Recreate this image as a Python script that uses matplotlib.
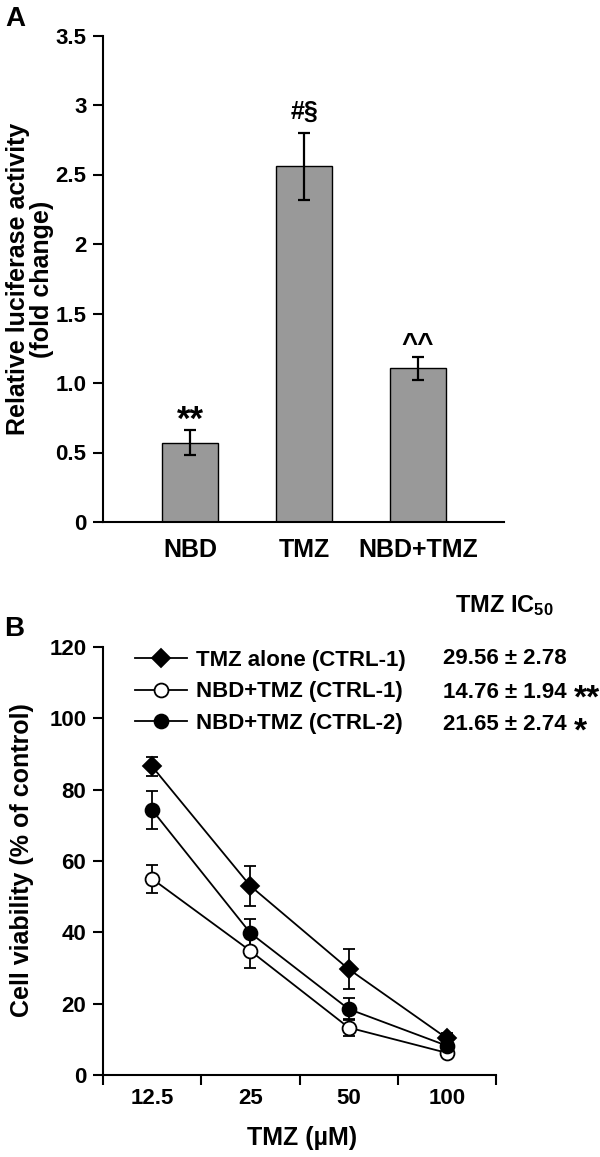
import numpy as np
import matplotlib
matplotlib.use("Agg")
import matplotlib.pyplot as plt
from matplotlib.ticker import FixedLocator, NullFormatter

plt.rcParams["font.family"] = ["Liberation Sans", "DejaVu Sans"]
plt.rcParams["font.weight"] = "bold"
plt.rcParams["mathtext.fontset"] = "custom"
plt.rcParams["mathtext.bf"] = "Liberation Sans:bold"
plt.rcParams["mathtext.rm"] = "Liberation Sans:bold"
plt.rcParams["mathtext.default"] = "bf"

# Panel A data: luciferase activity (fold change)
bar_labels = ["NBD", "TMZ", "NBD+TMZ"]
bar_means = [0.57, 2.56, 1.105]
bar_errs = [0.09, 0.24, 0.085]
bar_marks = ["**", "#§", "^^"]
a_ticks = [0, 0.5, 1.0, 1.5, 2, 2.5, 3, 3.5]
a_ticklabels = ["0", "0.5", "1.0", "1.5", "2", "2.5", "3", "3.5"]

# Panel B data: cell viability (% of control)
doses = ["12.5", "25", "50", "100"]
tmz_alone = [86.5, 53.0, 29.7, 10.3]
tmz_alone_err = [2.7, 5.6, 5.7, 1.5]
nbd_ctrl1 = [55.0, 34.8, 13.3, 6.2]
nbd_ctrl1_err = [3.9, 4.7, 2.5, 1.0]
nbd_ctrl2 = [74.3, 39.8, 18.5, 8.2]
nbd_ctrl2_err = [5.2, 4.0, 3.0, 1.5]
series_names = ["TMZ alone (CTRL-1)", "NBD+TMZ (CTRL-1)", "NBD+TMZ (CTRL-2)"]
ic50_vals = ["29.56 ± 2.78", "14.76 ± 1.94", "21.65 ± 2.74"]
ic50_sig = ["", "**", "*"]

W, H = 600, 1157
fig = plt.figure(figsize=(W / 100, H / 100), dpi=100)


def ax_rect(left, top, right, bottom):
    # pixel box -> figure fraction
    return [left / W, 1 - bottom / H, (right - left) / W, (bottom - top) / H]


# ---------------- Panel A ----------------
axA = fig.add_axes(ax_rect(103, 35.5, 504, 522))
x = np.arange(len(bar_labels))
axA.bar(x, bar_means, width=0.49, color="#999999", edgecolor="black", linewidth=1.0,
        zorder=2)
axA.errorbar(x, bar_means, yerr=bar_errs, fmt="none", ecolor="black", elinewidth=1.6,
             capsize=4.5, capthick=1.6, zorder=3)
# size / vertical offset of each significance mark
mark_style = {"**": (25, 0.0), "#§": (18, 0.10), "^^": (20, 0.03)}
for xi, m, e, s in zip(x, bar_means, bar_errs, bar_marks):
    fs, off = mark_style[s]
    axA.text(xi, m + e + off, s, ha="center", va="baseline", fontsize=fs,
             fontweight="bold")

axA.set_xlim(-0.763, 2.754)
axA.set_ylim(0, 3.5)
axA.set_xticks(x)
axA.set_xticklabels(bar_labels, fontsize=18, fontweight="bold")
axA.tick_params(axis="x", length=0, pad=11.5)
axA.yaxis.set_major_locator(FixedLocator(a_ticks))
axA.set_yticklabels(a_ticklabels, fontsize=16, fontweight="bold")
axA.tick_params(axis="y", length=7, width=1.5, pad=5)
for side in ["top", "right"]:
    axA.spines[side].set_visible(False)
for side in ["left", "bottom"]:
    axA.spines[side].set_linewidth(1.5)

fig.text(30 / W, 1 - 279 / H, "Relative luciferase activity\n(fold change)",
         rotation=90, ha="center", va="center", multialignment="center",
         fontsize=18, fontweight="bold", linespacing=1.0)
fig.text(5 / W, 1 - 6 / H, "A", ha="left", va="top", fontsize=20, fontweight="bold")

# ---------------- Panel B ----------------
axB = fig.add_axes(ax_rect(103, 647, 496, 1075))
xd = np.arange(len(doses))
styles = [
    dict(marker="D", markersize=9, markerfacecolor="black"),
    dict(marker="o", markersize=10, markerfacecolor="white"),
    dict(marker="o", markersize=10, markerfacecolor="black"),
]
ys = [tmz_alone, nbd_ctrl1, nbd_ctrl2]
errs = [tmz_alone_err, nbd_ctrl1_err, nbd_ctrl2_err]
handles = []
for y, e, st, name in zip(ys, errs, styles, series_names):
    axB.errorbar(xd, y, yerr=e, fmt="none", ecolor="black", elinewidth=1.3,
                 capsize=4, capthick=1.3, zorder=2)
    ln, = axB.plot(xd, y, color="black", linewidth=1.3, markeredgecolor="black",
                   markeredgewidth=1.3, label=name, zorder=3, **st)
    handles.append(ln)

axB.set_xlim(-0.5, 3.5)
axB.set_ylim(0, 120)
axB.set_xticks(xd)
axB.set_xticklabels(doses, fontsize=16, fontweight="bold")
axB.xaxis.set_minor_locator(FixedLocator([-0.5, 0.5, 1.5, 2.5, 3.5]))
axB.xaxis.set_minor_formatter(NullFormatter())
axB.tick_params(axis="x", which="major", length=0, pad=9.5)
axB.tick_params(axis="x", which="minor", length=7, width=1.5)
axB.set_yticks(np.arange(0, 121, 20))
axB.set_yticklabels([str(v) for v in range(0, 121, 20)], fontsize=16, fontweight="bold")
axB.tick_params(axis="y", length=7, width=1.5, pad=5)
for side in ["top", "right"]:
    axB.spines[side].set_visible(False)
for side in ["left", "bottom"]:
    axB.spines[side].set_linewidth(1.5)

leg = axB.legend(handles=handles, loc="center left",
                 bbox_to_anchor=((135 - 103) / 393, (1075 - 692) / 428),
                 frameon=False, fontsize=16, handlelength=2.35, handletextpad=0.4,
                 labelspacing=0.47, borderaxespad=0, borderpad=0)
for t in leg.get_texts():
    t.set_fontweight("bold")

fig.text(455 / W, 1 - 606 / H, r"TMZ IC$_{50}$", ha="left", va="center",
         fontsize=17, fontweight="bold")
row_y = [658, 692, 725]
for yy, val, sig in zip(row_y, ic50_vals, ic50_sig):
    t = fig.text(443 / W, 1 - yy / H, val, ha="left", va="center", fontsize=16,
                 fontweight="bold")
    if sig:
        axB.annotate(sig, xy=(1, 0.5), xycoords=t, xytext=(5, -5),
                     textcoords="offset points", ha="left", va="center",
                     fontsize=24, fontweight="bold", annotation_clip=False)

fig.text(22 / W, 1 - 860 / H, "Cell viability (% of control)", rotation=90,
         ha="center", va="center", fontsize=18, fontweight="bold")
fig.text(302 / W, 1 - 1138 / H, "TMZ (µM)", ha="center", va="center", fontsize=18,
         fontweight="bold")
fig.text(4 / W, 1 - 616 / H, "B", ha="left", va="top", fontsize=20, fontweight="bold")

fig.savefig("out.png", dpi=100)
plt.close(fig)
